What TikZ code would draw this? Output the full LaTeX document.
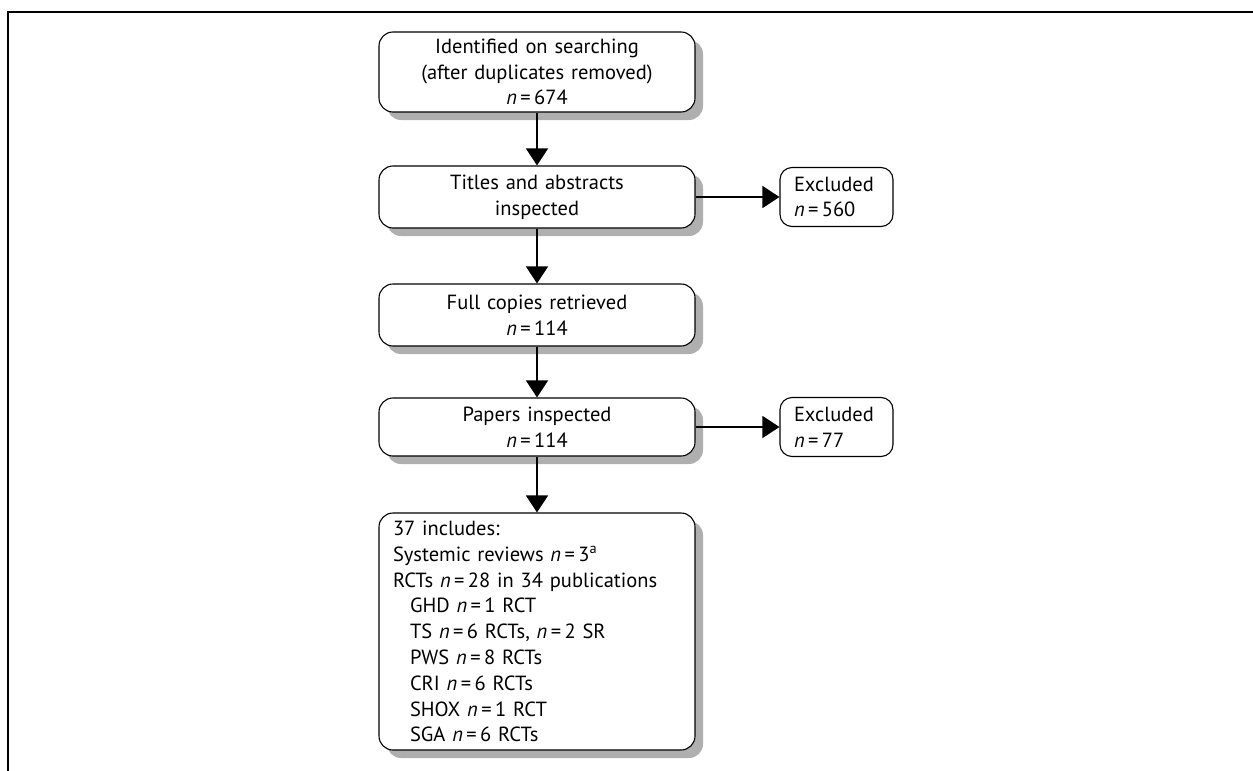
\documentclass[tikz,border=0pt]{standalone}
\usepackage{fontspec}
\setmainfont{PT Sans}
\usetikzlibrary{arrows.meta}
\definecolor{shadowgray}{RGB}{175,175,175}
\begin{document}
\begin{tikzpicture}[x=1pt,y=-1pt,
  every node/.style={font=\fontsize{20.5}{25.8}\selectfont},
  mainbox/.style={draw, line width=1.1pt, rounded corners=14pt, fill=white,
    minimum width=316pt, text width=288pt, inner sep=0pt, align=center},
  exbox/.style={draw, line width=1.1pt, rounded corners=12pt, fill=white,
    minimum width=113pt, minimum height=59pt, text width=85pt, inner sep=0pt, align=left},
  flow/.style={line width=1.3pt, -{Triangle[length=17pt,width=22pt]}},
  framel/.style={line width=2pt},
  shadowfill/.style={fill=shadowgray, rounded corners=14pt}
]
\useasboundingbox (0,0) rectangle (1253,771);
\draw[framel] (1253,12) -- (8,12) -- (8,771);

% drop shadows (offset 8pt right and down)
\fill[shadowfill] (387,40) rectangle (703,120);
\fill[shadowfill] (387,174) rectangle (703,236);
\fill[shadowfill] (387,292) rectangle (703,354);
\fill[shadowfill] (387,406) rectangle (703,464);
\fill[shadowfill] (387,521) rectangle (703,758);

\node[mainbox, minimum height=80pt] (b1) at (537,72) {Identified on searching\\(after duplicates removed)\\\textit{n}\,=\,674};
\node[mainbox, minimum height=62pt] (b2) at (537,197) {Titles and abstracts\\inspected};
\node[mainbox, minimum height=62pt] (b3) at (537,315) {Full copies retrieved\\\textit{n}\,=\,114};
\node[mainbox, minimum height=58pt] (b4) at (537,427) {Papers inspected\\\textit{n}\,=\,114};
\node[mainbox, minimum height=237pt, align=left] (b5) at (537,631.5) {37 includes:\\
Systemic reviews \textit{n}\,=\,3\textsuperscript{a}\\
RCTs \textit{n}\,=\,28 in 34 publications\\
\hspace*{17pt}GHD \textit{n}\,=\,1 RCT\\
\hspace*{17pt}TS \textit{n}\,=\,6 RCTs, \textit{n}\,=\,2 SR\\
\hspace*{17pt}PWS \textit{n}\,=\,8 RCTs\\
\hspace*{17pt}CRI \textit{n}\,=\,6 RCTs\\
\hspace*{17pt}SHOX \textit{n}\,=\,1 RCT\\
\hspace*{17pt}SGA \textit{n}\,=\,6 RCTs};

\node[exbox] (e1) at (836.5,197) {Excluded\\\textit{n}\,=\,560};
\node[exbox] (e2) at (836.5,427) {Excluded\\\textit{n}\,=\,77};

\draw[flow] (b1) -- (b2);
\draw[flow] (b2) -- (b3);
\draw[flow] (b3) -- (b4);
\draw[flow] (b4) -- (b5);
\draw[flow] (b2.east) -- (e1.west);
\draw[flow] (b4.east) -- (e2.west);
\end{tikzpicture}
\end{document}
